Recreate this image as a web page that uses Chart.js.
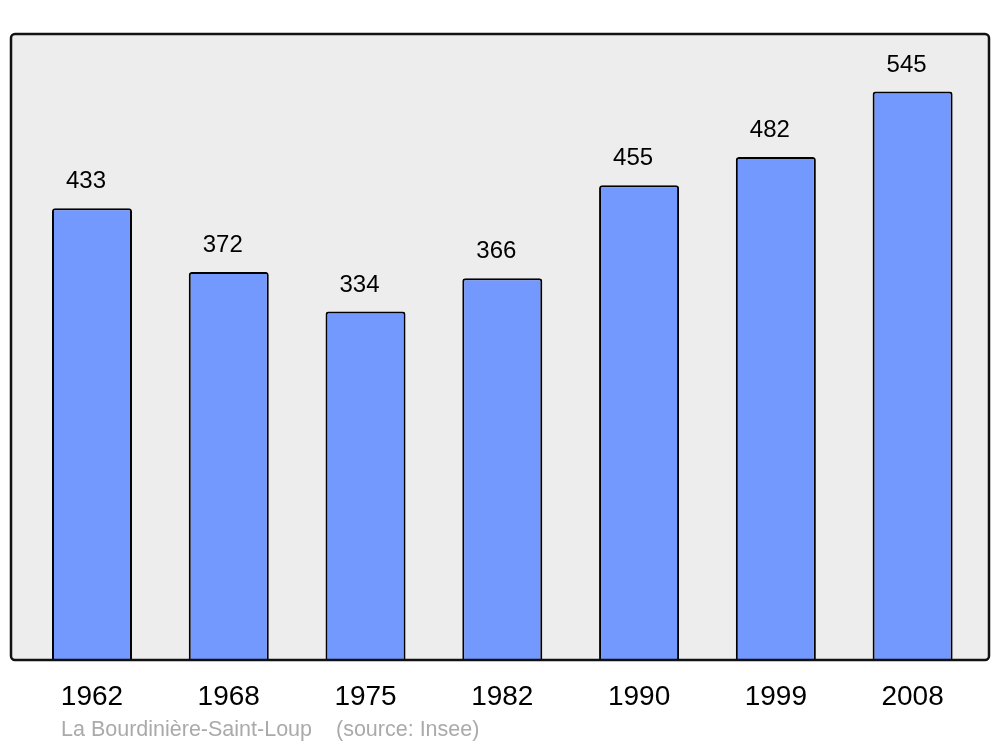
<!DOCTYPE html>
<html><head><meta charset="utf-8">
<script src="https://cdn.jsdelivr.net/npm/chart.js@4"></script>
<style>html,body{margin:0;padding:0;background:#fff;}#wrap{width:1000px;height:747px;}</style>
</head><body><div id="wrap"><canvas id="c" width="1000" height="747"></canvas></div>
<script>
const years = ["1962","1968","1975","1982","1990","1999","2008"];
const population = [433,372,334,366,455,482,545];
const yMax = 600;
const townName = "La Bourdinière-Saint-Loup";
const sourceText = "(source: Insee)";

const framePlugin = {
  id: 'frame',
  beforeDatasetsDraw(chart) {
    const ctx = chart.ctx;
    ctx.save();
    ctx.beginPath();
    ctx.roundRect(11, 34, 978, 626, 4);
    ctx.fillStyle = '#ededed';
    ctx.fill();
    ctx.restore();
  },
  afterDatasetsDraw(chart) {
    const ctx = chart.ctx;
    ctx.save();
    ctx.beginPath();
    ctx.roundRect(11, 34, 978, 626, 4);
    ctx.lineWidth = 2.5;
    ctx.strokeStyle = '#111';
    ctx.stroke();
    const meta = chart.getDatasetMeta(0);
    ctx.fillStyle = '#000';
    ctx.font = '24px "Liberation Sans", Arial, sans-serif';
    ctx.textAlign = 'center';
    ctx.textBaseline = 'middle';
    meta.data.forEach((bar, i) => {
      ctx.fillText(String(population[i]), bar.x - 6, bar.y - 26.5);
    });
    ctx.fillStyle = '#aaaaaa';
    ctx.font = '21.5px "Liberation Sans", Arial, sans-serif';
    ctx.textAlign = 'left';
    ctx.fillText(townName, 61, 730);
    ctx.fillText(sourceText, 336, 730);
    ctx.restore();
  }
};

new Chart(document.getElementById('c'), {
  type: 'bar',
  data: {
    labels: years,
    datasets: [{
      data: population,
      backgroundColor: '#7399ff',
      borderColor: '#000',
      borderWidth: 2,
      borderRadius: {topLeft: 3, topRight: 3},
      borderSkipped: 'bottom',
      barPercentage: 0.585,
      categoryPercentage: 1
    }]
  },
  options: {
    responsive: false,
    animation: false,
    layout: {padding: {left: 23.6, right: 19, top: 34, bottom: 0}},
    plugins: {legend: {display: false}, tooltip: {enabled: false}},
    scales: {
      y: {display: false, min: 0, max: yMax},
      x: {
        grid: {display: false, drawTicks: false},
        border: {display: false},
        ticks: {color: '#000', font: {size: 28, family: '"Liberation Sans", Arial, sans-serif'}, padding: 20, maxRotation: 0},
        afterFit(scale) { scale.height = 87; }
      }
    }
  },
  plugins: [framePlugin]
});
</script>
</body></html>
